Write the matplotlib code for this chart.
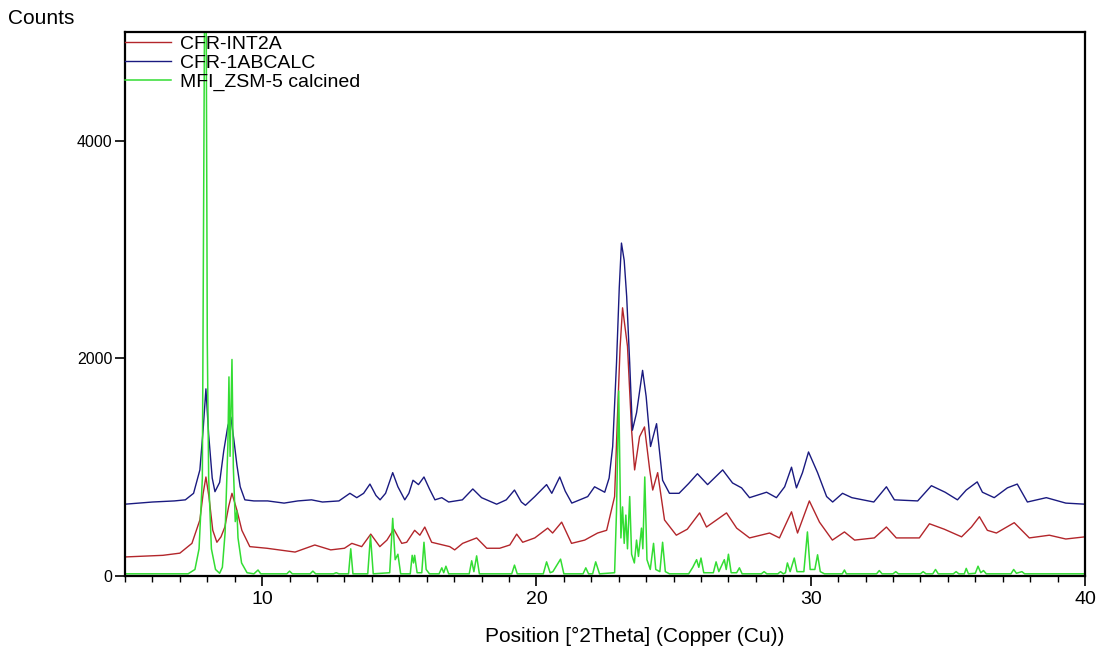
import matplotlib
matplotlib.use("Agg")
import matplotlib.pyplot as plt
from matplotlib.ticker import MultipleLocator

plt.rcParams['font.family'] = ['Liberation Sans', 'DejaVu Sans']

# CFR-1ABCALC (blue) - vertices
blue_x = [5.0, 6.0, 6.8, 7.2, 7.5, 7.73, 7.85, 7.95, 8.05, 8.18, 8.28, 8.45, 8.6, 8.75, 8.86,
          8.97, 9.08, 9.2, 9.37, 9.7, 10.2, 10.8, 11.3, 11.8, 12.2, 12.8, 13.2, 13.45, 13.7,
          13.93, 14.15, 14.3, 14.5, 14.76, 14.95, 15.2, 15.35, 15.5, 15.7, 15.9, 16.1, 16.3,
          16.55, 16.8, 17.3, 17.68, 18.0, 18.55, 18.9, 19.2, 19.45, 19.6, 19.94, 20.37, 20.56,
          20.85, 21.05, 21.29, 21.87, 22.12, 22.49, 22.65, 22.78, 22.92, 23.02, 23.1, 23.2,
          23.29, 23.4, 23.5, 23.65, 23.87, 24.0, 24.16, 24.38, 24.6, 24.85, 25.2, 25.55, 25.87,
          26.24, 26.79, 27.15, 27.48, 27.77, 28.39, 28.75, 29.05, 29.3, 29.48, 29.7, 29.92,
          30.25, 30.58, 30.8, 31.16, 31.5, 32.3, 32.76, 33.05, 33.9, 34.4, 34.9, 35.35, 35.67,
          36.07, 36.26, 36.69, 37.17, 37.53, 37.9, 38.59, 39.3, 40.0]
blue_y = [660, 680, 690, 700, 760, 975, 1350, 1720, 1300, 900, 775, 860, 1150, 1380, 1460,
          1250, 1020, 820, 700, 690, 690, 670, 690, 700, 680, 690, 760, 720, 760,
          845, 740, 700, 760, 950, 820, 700, 760, 880, 840, 910, 800, 700,
          720, 680, 700, 800, 720, 660, 700, 790, 680, 650, 730, 840, 760,
          910, 780, 670, 730, 820, 770, 900, 1190, 1960, 2650, 3060, 2900,
          2570, 1960, 1340, 1500, 1890, 1650, 1190, 1400, 880, 760, 760, 850, 940,
          840, 975, 855, 810, 720, 770, 720, 820, 1000, 810, 950, 1140,
          950, 730, 680, 760, 720, 680, 820, 700, 690, 830, 770, 700, 790,
          865, 770, 720, 810, 845, 680, 720, 670, 660]

# CFR-INT2A (red)
red_x = [5.0, 6.38, 7.0, 7.44, 7.73, 7.85, 7.95, 8.06, 8.2, 8.35, 8.5, 8.64, 8.78, 8.9,
         9.08, 9.26, 9.55, 10.17, 11.2, 11.92, 12.5, 13.0, 13.27, 13.63, 13.96, 14.29, 14.55,
         14.8, 15.09, 15.27, 15.56, 15.75, 15.93, 16.18, 16.84, 17.02, 17.31, 17.82, 18.19,
         18.66, 19.03, 19.28, 19.5, 19.94, 20.41, 20.59, 20.92, 21.28, 21.76, 22.23, 22.56,
         22.85, 22.96, 23.05, 23.14, 23.32, 23.47, 23.58, 23.76, 23.94, 24.13, 24.24, 24.42,
         24.67, 25.1, 25.5, 25.95, 26.2, 26.93, 27.3, 27.77, 28.5, 28.86, 29.3, 29.52, 29.95,
         30.32, 30.79, 31.23, 31.6, 32.32, 32.76, 33.12, 33.96, 34.33, 34.87, 35.5, 35.86,
         36.15, 36.44, 36.77, 37.42, 37.97, 38.7, 39.3, 40.0]
red_y = [175, 190, 210, 300, 515, 760, 910, 730, 420, 310, 360, 450, 640, 760,
         605, 420, 270, 255, 220, 285, 240, 255, 300, 270, 385, 270, 330,
         430, 300, 310, 420, 375, 450, 310, 270, 240, 300, 350, 255,
         255, 285, 385, 310, 350, 440, 395, 495, 300, 330, 395, 420,
         730, 1500, 2100, 2465, 2110, 1340, 975, 1280, 1370, 975, 790, 950,
         515, 375, 430, 580, 450, 580, 440, 350, 395, 350, 590, 395, 690,
         495, 330, 405, 330, 350, 450, 350, 350, 480, 430, 360, 450,
         545, 420, 395, 490, 350, 375, 340, 360]

# MFI_ZSM-5 calcined (green) reference pattern
green_x = [5.0, 7.3, 7.55, 7.7, 7.82, 7.9, 7.96, 8.0, 8.05, 8.15, 8.3, 8.45, 8.55, 8.65, 8.75,
           8.79, 8.83, 8.9, 8.95, 9.02, 9.08, 9.12, 9.25, 9.45, 9.7, 9.85, 9.95, 10.9, 11.0,
           11.1, 11.75, 11.85, 11.95, 12.6, 12.7, 12.8, 13.15, 13.23, 13.31, 13.85, 13.95,
           14.05, 14.65, 14.76, 14.85, 14.95, 15.05, 15.4, 15.47, 15.52, 15.56, 15.65, 15.82,
           15.9, 15.98, 16.1, 16.45, 16.55, 16.62, 16.7, 16.8, 17.55, 17.64, 17.72, 17.82,
           17.92, 19.1, 19.2, 19.3, 20.25, 20.37, 20.5, 20.6, 20.88, 21.0, 21.7, 21.8, 21.9,
           22.05, 22.16, 22.3, 22.85, 22.92, 23.0, 23.08, 23.14, 23.2, 23.26, 23.32, 23.4,
           23.47, 23.57, 23.65, 23.72, 23.83, 23.88, 23.95, 24.03, 24.15, 24.27, 24.35, 24.5,
           24.6, 24.7, 24.85, 25.55, 25.7, 25.84, 25.92, 26.0, 26.1, 26.45, 26.55, 26.65,
           26.85, 26.92, 27.0, 27.1, 27.3, 27.4, 27.5, 28.2, 28.3, 28.4, 28.8, 28.9, 29.0,
           29.08, 29.15, 29.25, 29.4, 29.5, 29.75, 29.88, 29.98, 30.15, 30.25, 30.35, 30.5,
           31.15, 31.23, 31.3, 32.4, 32.5, 32.6, 33.0, 33.1, 33.2, 34.0, 34.1, 34.2, 34.45,
           34.55, 34.65, 35.2, 35.3, 35.4, 35.6, 35.67, 35.75, 36.0, 36.1, 36.2, 36.3, 36.4,
           37.3, 37.4, 37.5, 37.7, 37.8, 40.0]
green_y = [20, 20, 60, 250, 900, 5200, 5200, 2150, 900, 250, 60, 25, 80, 400, 1200,
           1830, 1100, 1990, 1000, 500, 600, 350, 120, 30, 20, 55, 20, 20, 45,
           20, 20, 45, 20, 20, 30, 20, 20, 250, 20, 20, 370,
           20, 30, 530, 150, 200, 20, 20, 190, 120, 190, 30, 30,
           310, 60, 20, 20, 75, 30, 90, 20, 20, 140, 40, 185,
           20, 20, 100, 20, 20, 130, 30, 40, 155, 20, 20, 75, 20,
           20, 130, 20, 30, 600, 1700, 350, 635, 300, 560, 250, 730,
           200, 120, 330, 180, 440, 250, 910, 150, 60, 300, 60, 40,
           310, 40, 20, 20, 80, 150, 80, 165, 30, 30, 130, 40,
           150, 60, 200, 30, 30, 75, 20, 20, 40, 20, 20, 40, 20,
           30, 120, 40, 165, 40, 40, 405, 60, 60, 195, 40, 20,
           20, 55, 20, 20, 50, 20, 20, 40, 20, 20, 40, 20, 20,
           60, 20, 20, 40, 20, 20, 70, 20, 25, 90, 30, 50, 20,
           20, 60, 25, 40, 20, 20]

fig = plt.figure(figsize=(10.99, 6.5), dpi=100)
ax = fig.add_axes([125 / 1099, 1 - 576 / 650, 960 / 1099, 544 / 650])

ax.plot(red_x, red_y, color='#b3262b', lw=1.0, label='CFR-INT2A')
ax.plot(blue_x, blue_y, color='#1a1a80', lw=1.0, label='CFR-1ABCALC')
ax.plot(green_x, green_y, color='#33dd33', lw=1.1, label='MFI_ZSM-5 calcined')

ax.set_xlim(5, 40)
ax.set_ylim(0, 5000)
ax.xaxis.set_major_locator(MultipleLocator(10))
ax.xaxis.set_minor_locator(MultipleLocator(1))
ax.yaxis.set_major_locator(MultipleLocator(2000))
ax.tick_params(axis='both', which='major', direction='out', length=7, width=1.2)
ax.tick_params(axis='x', which='major', labelsize=14, pad=4)
ax.tick_params(axis='y', which='major', labelsize=11.5, pad=2)
ax.tick_params(axis='x', which='minor', direction='out', length=4, width=1.0)
for s in ax.spines.values():
    s.set_linewidth(1.6)

ax.legend(loc='upper left', bbox_to_anchor=(0, 0.9945), frameon=False, fontsize=14,
          handlelength=2.35, handletextpad=0.47, labelspacing=0.08, borderpad=0,
          borderaxespad=0)

fig.text(8 / 1099, 1 - 18 / 650, 'Counts', fontsize=15, va='center', ha='left')
fig.text(635 / 1099, 1 - 636 / 650, 'Position [°2Theta] (Copper (Cu))', fontsize=15,
         va='center', ha='center')

fig.savefig('out.png', dpi=100)
